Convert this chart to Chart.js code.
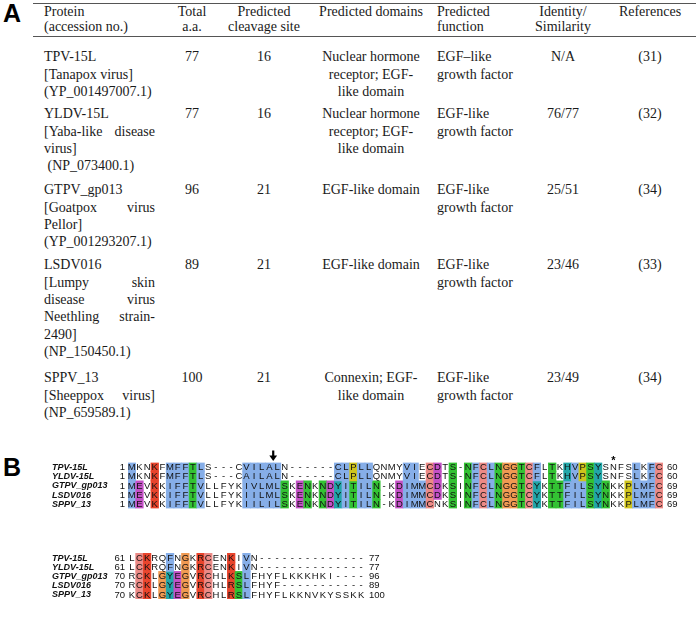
<!DOCTYPE html>
<html><head><meta charset="utf-8">
<script src="https://cdn.jsdelivr.net/npm/chart.js@4.4.1/dist/chart.umd.min.js"></script>
<style>
html,body{margin:0;padding:0;background:#fff;}
#page{position:relative;width:700px;height:617px;overflow:hidden;background:#fff;}
.t{position:absolute;font-family:"Liberation Serif","Times New Roman",serif;font-size:14px;line-height:17px;color:#1a1a1a;white-space:pre;}
.panel{position:absolute;font-family:"Liberation Sans",Arial,sans-serif;font-weight:bold;font-size:25px;line-height:25px;color:#000;}
.rule{position:absolute;height:1px;background:#555;}
canvas{position:absolute;left:0;}
</style></head><body><div id="page">
<div class="panel" style="left:3px;top:1px;">A</div>
<div class="panel" style="left:3px;top:455px;">B</div>
<canvas id="blk1" width="700" height="78" style="top:440px;width:700px;height:78px;"></canvas>
<canvas id="blk2" width="700" height="75" style="top:535px;width:700px;height:75px;"></canvas>
</div>
<script>
// ---------- Panel A: table data ----------
const headerProtein = ["Protein", "(accession no.)"];
const headerTotal = ["Total", "a.a."];
const headerCleavage = ["Predicted", "cleavage site"];
const headerDomains = ["Predicted domains"];
const headerFunction = ["Predicted", "function"];
const headerIdentity = ["Identity/", "Similarity"];
const headerRefs = ["References"];

const proteinLines = [
  ["TPV-15L", "[Tanapox virus]", "(YP_001497007.1)"],
  ["YLDV-15L", "[Yaba-like disease", "virus]", " (NP_073400.1)"],
  ["GTPV_gp013", "[Goatpox virus", "Pellor]", "(YP_001293207.1)"],
  ["LSDV016", "[Lumpy skin", "disease virus", "Neethling strain-", "2490]", "(NP_150450.1)"],
  ["SPPV_13", "[Sheeppox virus]", "(NP_659589.1)"]
];
const proteinJustified = [
  [false, false, false],
  [false, true, false, false],
  [false, true, false, false],
  [false, true, true, true, false, false],
  [false, true, false]
];
const totalAA = ["77", "77", "96", "89", "100"];
const cleavageSite = ["16", "16", "21", "21", "21"];
const domainLines = [
  ["Nuclear hormone", "receptor; EGF-", "like domain"],
  ["Nuclear hormone", "receptor; EGF-", "like domain"],
  ["EGF-like domain"],
  ["EGF-like domain"],
  ["Connexin; EGF-", "like domain"]
];
const functionLines = [
  ["EGF\u2013like", "growth factor"],
  ["EGF-like", "growth factor"],
  ["EGF-like", "growth factor"],
  ["EGF-like", "growth factor"],
  ["EGF-like", "growth factor"]
];
const identitySimilarity = ["N/A", "76/77", "25/51", "23/46", "23/49"];
const references = ["(31)", "(32)", "(34)", "(33)", "(34)"];

// ---------- Panel B: alignment data ----------
const seqNames = ["TPV-15L", "YLDV-15L", "GTPV_gp013", "LSDV016", "SPPV_13"];
const block1Start = ["1", "1", "1", "1", "1"];
const block1End = ["60", "60", "69", "69", "69"];
const block1Seqs = [
  "MKNKFMFFTLS---CVILALN------CLPLLQNMYVIECDTS-NFCLNGGTCFLTKHVPSYSNFSLKFC",
  "MKNKFMFFTLS---CAILALN------CLPLLQNMYVIECDTS-NFCLNGGTCFLTKHVPSYSNFSLKFC",
  "MEVKKIFFTVLLFYKIVLMLSKENKNDYITILN-KDIMMCDKSINFCLNGGTCYKTTFILSYNKKPLMFC",
  "MEVKKIFFTVLLFYKIILMLSKENKNDYITILN-KDIMMCDKSINFCLNGGTCYKTTFILSYNKKPLMFC",
  "MEVKKIFFTVLLFYKIILILSKENKNDYITILN-KDIMMCNKSINFCLNGGTCYKTTFILSYNKKPLMFC"
];
// colour class per residue: B blue, R red, M magenta, G green, P pink, O orange, Y yellow, C cyan, . none
const block1Classes = [
  "B..R.BBBGB.....BBBBB.......BBYBB....BB.PM.G.GBPBGOOGPB.G.CBYGC....B.BP",
  "B..R.BBBGB.....BBBBB.......BBYBB....BB.PM.G.GBPBGOOGPB.G.CBYGC....B.BP",
  "BM.R.BBBGB.....BBBBBG.MG.GMCBGBBG..MBBBPM.G.GBPBGOOGPC.GGBBBGCG..YBBBP",
  "BM.R.BBBGB.....BBBBBG.MG.GMCBGBBG..MBBBPM.G.GBPBGOOGPC.GGBBBGCG..YBBBP",
  "BM.R.BBBGB.....BBBBBG.MG.GMCBGBBG..MBBBP..G.GBPBGOOGPC.GGBBBGCG..YBBBP"
];
const block2Start = ["61", "61", "70", "70", "70"];
const block2End = ["77", "77", "96", "89", "100"];
const block2Seqs = [
  "LCKRQFNGKRCENKIVN--------------",
  "LCKRQFNGKRCENKIVN--------------",
  "RCKLGYEGVRCHLKSLFHYFLKKKHKI----",
  "RCKLGYEGVRCHLRSLFHYF-----------",
  "KCKLGYEGVRCHLRSLFHYFLKKNVKYSSKK"
];
const block2Classes = [
  ".PR..B.O.RP..R.B...............",
  ".PR..B.O.RP..R.B...............",
  ".PR.OCMO.RP..RGB...............",
  ".PR.OCMO.RP..RGB...............",
  ".PR.OCMO.RP..RGB..............."
];
const cleavageArrowAfterColumn = 19;   // arrow drawn at the boundary after this column
const conservedStarColumn = 64;

const PALETTE = {
  B: "#86aee8", R: "#e8442c", M: "#c350c6", G: "#33c233",
  P: "#ec8a86", O: "#f09a52", Y: "#cfc41c", C: "#22a6a8", ".": "rgba(255,255,255,0)"
};

// ---------- Build table (HTML text) ----------
const page = document.getElementById("page");
function addText(txt, x, baseline, mode, width) {
  const d = document.createElement("div");
  d.className = "t";
  d.textContent = txt;
  d.style.top = (baseline - 13.2) + "px";
  if (mode === "center") {
    d.style.left = (x - 100) + "px"; d.style.width = "200px"; d.style.textAlign = "center";
  } else if (mode === "justify") {
    d.style.left = x + "px"; d.style.width = width + "px";
    d.style.whiteSpace = "normal"; d.style.textAlign = "justify"; d.style.textAlignLast = "justify";
  } else {
    d.style.left = x + "px";
  }
  page.appendChild(d);
}
function addRule(y) {
  const r = document.createElement("div");
  r.className = "rule"; r.style.top = y + "px"; r.style.left = "33px"; r.style.width = "663px";
  page.appendChild(r);
}
const COL = {protein: 44, proteinW: 111, total: 192, cleav: 264, dom: 371, func: 437, ident: 563, refs: 650};
const H1 = 16.5, H2 = 31.5, STEP = 17.3;
addRule(3); addRule(36);
headerProtein.forEach((s, i) => addText(s, COL.protein, H1 + i * (H2 - H1), "left"));
headerTotal.forEach((s, i) => addText(s, COL.total, H1 + i * (H2 - H1), "center"));
headerCleavage.forEach((s, i) => addText(s, COL.cleav, H1 + i * (H2 - H1), "center"));
headerDomains.forEach((s, i) => addText(s, COL.dom, H1 + i * (H2 - H1), "center"));
headerFunction.forEach((s, i) => addText(s, COL.func, H1 + i * (H2 - H1), "left"));
headerIdentity.forEach((s, i) => addText(s, COL.ident, H1 + i * (H2 - H1), "center"));
headerRefs.forEach((s, i) => addText(s, COL.refs, H1 + i * (H2 - H1), "center"));

const rowBase = [61.5, 118.5, 194.5, 269.5, 382.5];
proteinLines.forEach((lines, r) => {
  const b0 = rowBase[r];
  lines.forEach((s, i) => {
    if (proteinJustified[r][i]) addText(s, COL.protein, b0 + i * STEP, "justify", COL.proteinW);
    else addText(s, COL.protein, b0 + i * STEP, "left");
  });
  addText(totalAA[r], COL.total, b0, "center");
  addText(cleavageSite[r], COL.cleav, b0, "center");
  domainLines[r].forEach((s, i) => addText(s, COL.dom, b0 + i * STEP, "center"));
  functionLines[r].forEach((s, i) => addText(s, COL.func, b0 + i * STEP, "left"));
  addText(identitySimilarity[r], COL.ident, b0, "center");
  addText(references[r], COL.refs, b0, "center");
});

// ---------- Alignment blocks (Chart.js stacked bars as cells) ----------
const gridText = {
  id: "gridText",
  afterDatasetsDraw(chart, args, o) {
    const ctx = chart.ctx;
    const xs = chart.scales.x, ys = chart.scales.y;
    ctx.save();
    ctx.textBaseline = "middle";
    o.seqs.forEach((seq, r) => {
      const cy = ys.getPixelForValue(r + 0.5) + 0.5;
      ctx.fillStyle = "#111";
      ctx.font = '9.5px "Liberation Sans", Arial, sans-serif';
      ctx.textAlign = "center";
      for (let i = 0; i < seq.length; i++) {
        ctx.fillText(seq[i], xs.getPixelForValue(i), cy);
      }
      ctx.textAlign = "right";
      ctx.fillText(o.start[r], chart.chartArea.left - 3, cy);
      ctx.textAlign = "left";
      ctx.fillText(o.end[r], chart.chartArea.right + 4, cy);
      ctx.font = 'italic bold 9px "Liberation Sans", Arial, sans-serif';
      ctx.fillText(seqNames[r], o.nameX, cy);
    });
    if (o.arrowAfter) {
      const ax = xs.getPixelForValue(o.arrowAfter - 0.5);
      const top = chart.chartArea.top;
      ctx.fillStyle = "#000";
      ctx.fillRect(ax - 1.1, top - 12, 2.2, 6);
      ctx.beginPath();
      ctx.moveTo(ax - 3.9, top - 7); ctx.lineTo(ax + 3.9, top - 7); ctx.lineTo(ax, top - 1.5);
      ctx.closePath(); ctx.fill();
    }
    if (o.starCol) {
      const sx = xs.getPixelForValue(o.starCol - 1);
      ctx.fillStyle = "#000";
      ctx.font = 'bold 11px "Liberation Sans", Arial, sans-serif';
      ctx.textAlign = "center";
      ctx.fillText("*", sx, chart.chartArea.top - 2);
    }
    ctx.restore();
  }
};

function makeBlock(id, seqs, classes, start, end, pad, extra) {
  const labels = Array.from(seqs[0], (_, i) => String(i + 1));
  const datasets = seqs.map((s, r) => ({
    label: seqNames[r],
    data: Array.from(s, () => 1),
    backgroundColor: Array.from(classes[r], c => PALETTE[c]),
    borderWidth: 0,
    categoryPercentage: 1,
    barPercentage: 1,
    stack: "aln"
  }));
  return new Chart(document.getElementById(id), {
    type: "bar",
    data: { labels, datasets },
    options: {
      responsive: false, animation: false, events: [],
      layout: { padding: pad },
      plugins: {
        legend: { display: false }, tooltip: { enabled: false },
        gridText: Object.assign({ seqs, start, end, nameX: 52 }, extra)
      },
      scales: {
        x: { display: false, stacked: true },
        y: { display: false, stacked: true, reverse: true, min: 0, max: seqs.length }
      }
    },
    plugins: [gridText]
  });
}
makeBlock("blk1", block1Seqs, block1Classes, block1Start, block1End,
  { left: 128, right: 700 - (128 + 70 * 7.643), top: 22.5, bottom: 9.5 },
  { arrowAfter: cleavageArrowAfterColumn, starCol: conservedStarColumn });
makeBlock("blk2", block2Seqs, block2Classes, block2Start, block2End,
  { left: 128, right: 700 - (128 + 31 * 7.643), top: 18, bottom: 11 }, {});
</script>
</body></html>
